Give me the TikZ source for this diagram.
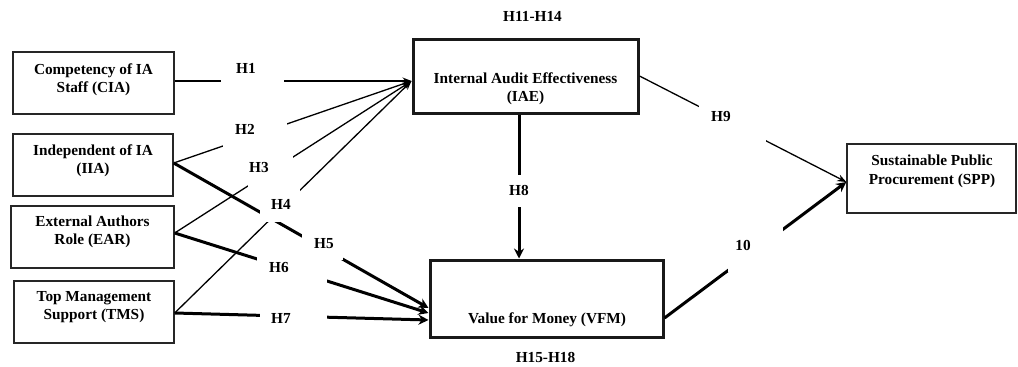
\documentclass[tikz,border=0pt]{standalone}
\usepackage{fontspec}
\setmainfont{Liberation Serif}
\usetikzlibrary{arrows.meta}
\begin{document}
\begin{tikzpicture}[x=1pt,y=-1pt,
  font=\bfseries\fontsize{15.3}{18.5}\selectfont,
  ibox/.style={draw=black!85, line width=1.4pt, inner sep=0pt},
  cbox/.style={draw=black!90, line width=3pt, inner sep=0pt},
  btxt/.style={align=center, inner sep=0pt},
  gap/.style={fill=white, inner sep=0pt},
  hlab/.style={inner sep=0pt},
  arrthin/.style={line width=1.3pt, -{Stealth[length=9pt,width=7pt]}},
  arrthick/.style={line width=3pt, -{Stealth[length=10pt,width=10pt]}}
]
\useasboundingbox (0,0) rectangle (1018,367);

% boxes
\node[ibox, minimum width=161pt, minimum height=62pt,
  label={[btxt, shift={(0,-3.5)}]center:Competency of IA\\Staff (CIA)}] (cia) at (93.5,83) {};
\node[ibox, minimum width=160pt, minimum height=62pt,
  label={[btxt, shift={(0,-4.5)}]center:Independent of IA\\(IIA)}] (iia) at (93,165) {};
\node[ibox, minimum width=163pt, minimum height=62pt,
  label={[btxt, shift={(0,-5)}]center:External Authors\\Role (EAR)}] (ear) at (92.5,237) {};
\node[ibox, minimum width=160pt, minimum height=62pt,
  label={[btxt, shift={(0,-5)}]center:Top Management\\Support (TMS)}] (tms) at (94,312) {};
\node[cbox, minimum width=225pt, minimum height=74pt,
  label={[btxt, shift={(0,12.5)}]center:Internal Audit Effectiveness\\(IAE)}] (iae) at (525.5,76) {};
\node[cbox, minimum width=233pt, minimum height=77pt,
  label={[btxt, shift={(0.5,21)}]center:Value for Money (VFM)}] (vfm) at (546.5,298.5) {};
\node[ibox, minimum width=169pt, minimum height=69pt,
  label={[btxt, shift={(0.5,-7)}]center:Sustainable Public\\Procurement (SPP)}] (spp) at (931.5,178.5) {};

% connectors to IAE
\draw[arrthin] ([yshift=2pt]cia.east) -- ([yshift=-5pt]iae.west);
\draw[arrthin] ([yshift=2pt]iia.east) -- ([yshift=-5pt]iae.west);
\draw[arrthin] ([yshift=4pt]ear.east) -- ([yshift=-5pt]iae.west);
\draw[arrthin] ([yshift=-1pt]tms.east) -- ([yshift=-5pt]iae.west);
% connectors to VFM
\draw[arrthick] ([yshift=2pt]iia.east) -- ([yshift=-9.5pt]vfm.west);
\draw[arrthick] ([yshift=4pt]ear.east) -- ([yshift=-14.5pt]vfm.west);
\draw[arrthick] ([yshift=-1pt]tms.east) -- ([yshift=-21.5pt]vfm.west);
\draw[arrthick] ([xshift=-6.5pt]iae.south) -- ([xshift=-6.5pt]iae.south |- vfm.north);
% connectors to SPP
\draw[arrthin] (iae.east) -- ([yshift=-3.5pt]spp.west);
\draw[arrthick] ([yshift=-19.5pt]vfm.east) -- ([yshift=-3.5pt]spp.west);

% hypothesis labels (white boxes interrupting the lines)
\node[gap, minimum width=63pt, minimum height=33pt,
  label={[hlab, shift={(-6.5,-3.5)}]center:H1}] (h1) at (252.5,71.5) {};
\node[gap, minimum width=64pt, minimum height=34pt,
  label={[hlab, shift={(-10,-2)}]center:H2}] (h2) at (255,131) {};
\node[gap, minimum width=45pt, minimum height=36pt,
  label={[hlab, shift={(-11.5,-2)}]center:H3}] (h3) at (270.5,170) {};
\node[gap, minimum width=40pt, minimum height=33pt,
  label={[hlab, shift={(1,-1.5)}]center:H4}] (h4) at (280,205.5) {};
\node[gap, minimum width=41pt, minimum height=32pt,
  label={[hlab, shift={(1.5,0)}]center:H5}] (h5) at (322.5,244) {};
\node[gap, minimum width=70pt, minimum height=28pt,
  label={[hlab, shift={(-13,-1)}]center:H6}] (h6) at (292,269) {};
\node[gap, minimum width=67pt, minimum height=29pt,
  label={[hlab, shift={(-12.5,0.5)}]center:H7}] (h7) at (293.5,317.5) {};
\node[gap, minimum width=40pt, minimum height=32pt,
  label={[hlab, shift={(-1,-1)}]center:H8}] (h8) at (520,191) {};
\node[gap, minimum width=67pt, minimum height=43pt,
  label={[hlab, shift={(-11.5,-4.5)}]center:H9}] (h9) at (732.5,121.5) {};
\node[gap, minimum width=55pt, minimum height=47pt,
  label={[hlab, shift={(-12.5,-3.5)}]center:10}] (h10) at (755.5,248.5) {};

\node[hlab] (h1114) at (532.5,16) {H11-H14};
\node[hlab] (h1518) at (545.5,357) {H15-H18};
\end{tikzpicture}
\end{document}
